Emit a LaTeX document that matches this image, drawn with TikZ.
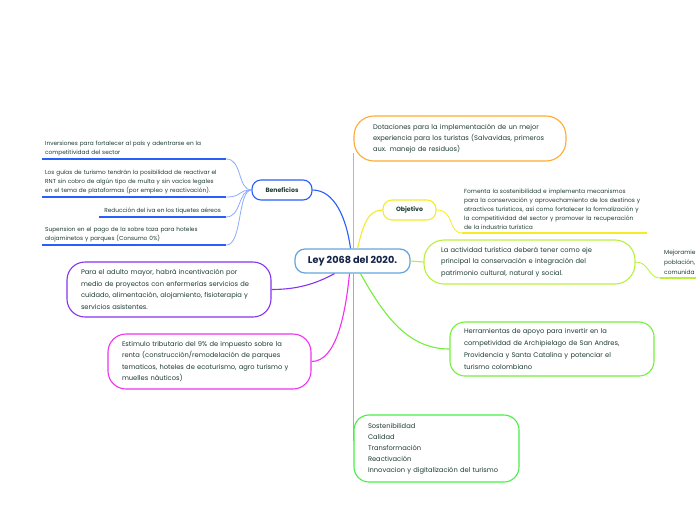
\documentclass[tikz,border=0pt]{standalone}
\usepackage{fontspec}
\setmainfont{Poppins}
\usepackage{tikz}
\usetikzlibrary{positioning, calc}
\definecolor{azulCentro}{RGB}{100,165,220}
\definecolor{azulBen}{RGB}{40,95,250}
\definecolor{azulHoja}{RGB}{140,170,255}
\definecolor{naranjaDot}{RGB}{255,170,50}
\definecolor{amarilloObj}{RGB}{245,235,40}
\definecolor{limaAct}{RGB}{185,240,60}
\definecolor{verdeHer}{RGB}{115,240,60}
\definecolor{verdeSos}{RGB}{70,240,70}
\definecolor{moradoAdu}{RGB}{135,50,240}
\definecolor{rosaEst}{RGB}{240,50,240}
\definecolor{textoMapa}{RGB}{30,60,52}
\definecolor{tituloMapa}{RGB}{20,35,70}

\tikzset{
  caja/.style={draw, rounded corners=#1, line width=1.1pt, fill=white,
    text=textoMapa, align=left, inner xsep=14pt, inner ysep=0pt,
    font=\fontsize{6.7}{11.5}\selectfont},
  caja/.default=18pt,
  etiqueta/.style={caja=9pt, inner xsep=0pt, minimum height=20pt, align=center,
    font=\bfseries\fontsize{6.2}{7}\selectfont},
  hoja/.style={text=textoMapa, align=left, inner xsep=3pt, inner ysep=3pt,
    font=\fontsize{5.8}{9}\selectfont},
  hojaGrande/.style={hoja, inner xsep=2pt, font=\fontsize{5.9}{9}\selectfont},
  rama/.style={line width=1.1pt},
  ramita/.style={line width=0.8pt}
}

\begin{document}
\begin{tikzpicture}[x=1pt, y=-1pt]
  \clip (0,0) rectangle (696,520);
  \fill[white] (0,0) rectangle (696,520);

  % Nodo central
  \node[caja=10pt, draw=azulCentro, line width=1.2pt, minimum width=115pt, minimum height=24pt,
    inner xsep=0pt, align=center, text=tituloMapa,
    font=\bfseries\fontsize{9.7}{11}\selectfont] (centro) at (352.5,261) {Ley 2068 del 2020.};

  % Beneficios y sus hojas
  \node[etiqueta, draw=azulBen, minimum width=60pt] (benef) at (282,190) {Beneficios};
  \node[hoja, text width=178pt, anchor=south west] (ben1) at (42,159)
    {Inversiones para fortalecer al país y adentrarse en la\\competitividad del sector};
  \node[hoja, text width=178pt, anchor=south west] (ben2) at (42,197)
    {Los guías de turismo tendrán la posibilidad de reactivar el\\RNT sin cobro de algún tipo de multa y sin vacíos legales\\en el tema de plataformas  (por empleo y reactivación).};
  \node[hoja, inner xsep=5pt, anchor=south east] (ben3) at (226,217)
    {Reducción del iva en los tiquetes aéreos};
  \node[hoja, text width=178pt, anchor=south west] (ben4) at (42,245)
    {Supension en el pago de la sobre taza para hoteles\\alojaminetos y parques (Consumo 0\%)};
  \foreach \h in {ben1, ben2, ben3, ben4}{
    \draw[azulBen, rama] (\h.south west) -- (\h.south east);
    \draw[azulHoja, ramita] (\h.south east) .. controls +(16,0) and +(-14,0) .. (benef.west);
  }
  \draw[azulBen, rama] (benef.east) .. controls +(22,0) and +(-4,-30) .. ([xshift=-2pt]centro.north);

  % Dotaciones
  \node[caja=20pt, draw=naranjaDot, text width=174pt, inner xsep=19pt, minimum height=45pt,
    font=\fontsize{6.7}{11}\selectfont] (dotac) at (460,138.5)
    {Dotaciones para la implementación de un mejor\\experiencia para los turistas (Salvavidas, primeros\\aux. manejo de residuos)};
  \draw[naranjaDot, rama] (centro.north -| dotac.west) -- ([yshift=-14pt]dotac.west);

  % Objetivo
  \node[etiqueta, draw=amarilloObj, minimum width=53pt] (objet) at (409.5,210) {Objetivo};
  \node[hojaGrande, text width=181pt, anchor=south west] (obj1) at (462,233)
    {Fomenta la sostenibilidad e implementa mecanismos\\para la conservación y aprovechamiento de los destinos y\\atractivos turísticos, así como fortalecer la formalización y\\la competitividad del sector y promover la recuperación\\de la industria turística};
  \draw[amarilloObj, rama] (obj1.south west) -- (obj1.south east);
  \draw[amarilloObj, ramita] (objet.east) .. controls +(18,0) and +(-14,0) .. (obj1.south west);
  \draw[amarilloObj, rama] ([xshift=5pt]centro.north) .. controls +(6,-25) and +(-14,0) .. (objet.west);

  % Actividad turistica
  \node[caja=20pt, draw=limaAct, text width=177pt, inner xsep=17pt, minimum height=44pt] (activ) at (529.5,262)
    {La actividad turística deberá tener como eje\\principal la conservación e integración del\\patrimonio cultural, natural y social.};
  \node[hojaGrande, text width=40pt, inner xsep=4pt, font=\fontsize{5.9}{10}\selectfont, anchor=south west] (act1) at (660,278)
    {Mejoramie\\población,\\comunida};
  \draw[limaAct, rama] (act1.south west) -- (act1.south east);
  \draw[limaAct, ramita] (activ.east) .. controls +(14,0) and +(-12,0) .. (act1.south west);
  \draw[limaAct, rama] (centro.east) -- (activ.west);

  % Herramientas
  \node[caja=15pt, draw=verdeHer, text width=176pt, minimum height=54pt,
    font=\fontsize{6.7}{12}\selectfont] (herra) at (552,349)
    {Herramientas de apoyo para invertir en la\\competividad de Archipielago de San Andres,\\Providencia y Santa Catalina y potenciar el\\turismo colombiano};
  \draw[verdeHer, rama] ([xshift=8pt]centro.south) .. controls +(25,45) and +(-40,0) .. (herra.west);

  % Sostenibilidad
  \node[caja=15pt, draw=verdeSos, text width=137pt, minimum height=67pt,
    font=\fontsize{6.7}{11}\selectfont] (soste) at (436.5,448.5)
    {Sostenibilidad\\Calidad\\Transformación\\Reactivación\\Innovacion y digitalización del turismo};
  \draw[verdeSos, rama] (centro.south -| soste.west) -- ([yshift=8pt]soste.west);

  % Adulto mayor
  \node[caja, draw=moradoAdu, text width=176pt, minimum height=55pt] (adult) at (169,289.5)
    {Para el adulto mayor, habrá incentivación por\\medio de proyectos con enfermerías servicios de\\cuidado, alimentación, alojamiento, fisioterapia y\\servicios asistentes.};
  \draw[moradoAdu, rama] (adult.east) .. controls +(30,0) and +(-15,8) .. ([xshift=-18pt]centro.south);

  % Estimulo tributario
  \node[caja, draw=rosaEst, text width=175pt, minimum height=55pt] (estim) at (209.5,361.5)
    {Estimulo tributario del 9\% de impuesto sobre la\\renta (construcción/remodelación de parques\\tematicos, hoteles de ecoturismo, agro turismo y\\muelles náuticos)};
  \draw[rosaEst, rama] (estim.east) .. controls +(25,0) and +(-4,40) .. ([xshift=-3pt]centro.south);
\end{tikzpicture}
\end{document}
